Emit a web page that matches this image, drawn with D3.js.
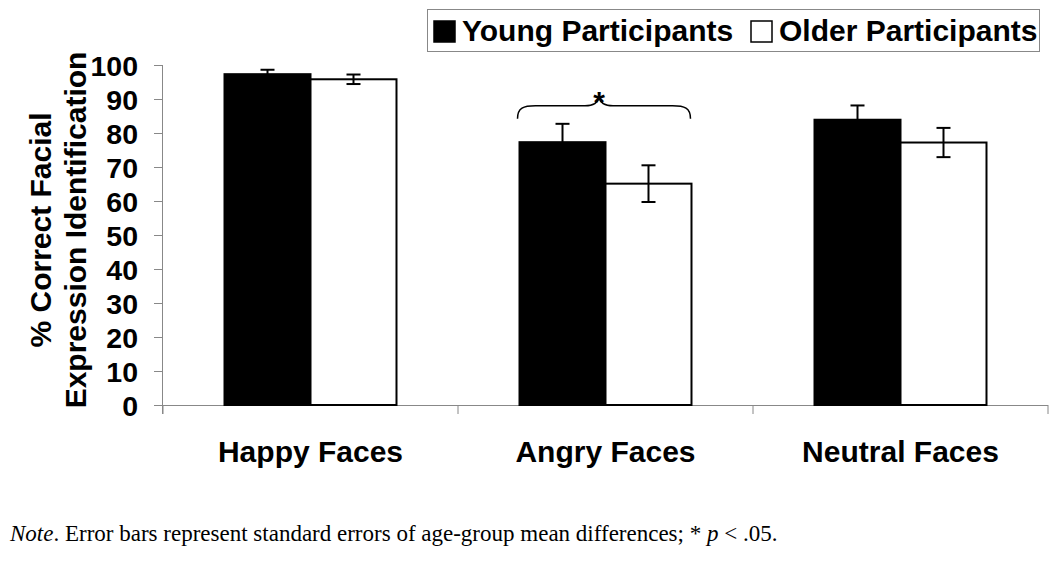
<!DOCTYPE html>
<html><head><meta charset="utf-8">
<script src="https://cdn.jsdelivr.net/npm/d3@7"></script>
<style>body{margin:0;background:#fff}svg{display:block}</style>
</head><body>
<svg id="c" width="1050" height="562"></svg>
<script>
const categories = ["Happy Faces", "Angry Faces", "Neutral Faces"];
const seriesNames = ["Young Participants", "Older Participants"];
const youngValues = [97.3, 77.3, 83.9];
const olderValues = [95.8, 65.1, 77.2];
const youngErrors = [1.3, 5.4, 4.2];
const olderErrors = [1.4, 5.4, 4.3];
const yTicks = [0, 10, 20, 30, 40, 50, 60, 70, 80, 90, 100];
const significantCategory = "Angry Faces";
const braceLevel = 88;

const svg = d3.select("#c");
const x0 = 163, x1 = 1048, yTop = 65, yBot = 405;
const y = d3.scaleLinear().domain([0, 100]).range([yBot, yTop]);
const x = d3.scaleBand().domain(categories).range([x0, x1]).paddingInner(0.417).paddingOuter(0.2085);
const xs = d3.scaleBand().domain(seriesNames).range([0, x.bandwidth()]);
const fills = ["#000", "#fff"];
const vals = [youngValues, olderValues];
const errs = [youngErrors, olderErrors];
const axisCol = "#888";
const sans = "Liberation Sans, Arial, sans-serif";

// Y axis
const yAxis = svg.append("g").attr("transform", `translate(${x0},0)`)
  .call(d3.axisLeft(y).tickValues(yTicks).tickSize(9).tickPadding(16));
yAxis.select(".domain").attr("stroke", axisCol).attr("d", `M-0.5,${yTop}V${yBot + 9}`);
yAxis.selectAll(".tick line").attr("stroke", axisCol);
yAxis.selectAll(".tick text").attr("font-family", sans)
  .attr("font-weight", "bold").attr("font-size", 28.5).attr("fill", "#000").attr("dy", "0.36em");

// X axis line + ticks at band boundaries
const step = x.step();
svg.append("line").attr("x1", x0 - 9).attr("x2", x1).attr("y1", yBot + 0.5).attr("y2", yBot + 0.5)
  .attr("stroke", axisCol);
const bounds = d3.range(categories.length + 1).map(i => x0 + i * step);
svg.selectAll(".xt").data(bounds).join("line")
  .attr("x1", d => d).attr("x2", d => d).attr("y1", yBot).attr("y2", yBot + 9).attr("stroke", axisCol);

// Bars
categories.forEach((c, ci) => {
  seriesNames.forEach((s, si) => {
    const bx = x(c) + xs(s), v = vals[si][ci];
    svg.append("rect").attr("x", bx).attr("y", y(v)).attr("width", xs.bandwidth())
      .attr("height", y(0) - y(v)).attr("fill", fills[si]).attr("stroke", "#000").attr("stroke-width", 2);
  });
});
// Error bars
categories.forEach((c, ci) => {
  seriesNames.forEach((s, si) => {
    const cx = x(c) + xs(s) + xs.bandwidth() / 2, v = vals[si][ci], e = errs[si][ci];
    const g = svg.append("g").attr("stroke", "#000").attr("stroke-width", 2);
    g.append("line").attr("x1", cx).attr("x2", cx).attr("y1", y(v + e)).attr("y2", y(v - e));
    [v + e, v - e].forEach(t => g.append("line").attr("x1", cx - 7).attr("x2", cx + 7).attr("y1", y(t)).attr("y2", y(t)));
  });
});

// Brace
const bl = x(significantCategory) - 2, br = x(significantCategory) + x.bandwidth() - 1;
const bm = (bl + br) / 2 - 5, by = y(braceLevel);
const braceD = `M${bl},${by + 13} C${bl},${by + 2} ${bl + 6},${by} ${bl + 18},${by} L${bm - 14},${by} C${bm - 6},${by} ${bm - 1},${by - 3} ${bm},${by - 9} C${bm + 1},${by - 3} ${bm + 6},${by} ${bm + 14},${by} L${br - 18},${by} C${br - 6},${by} ${br},${by + 2} ${br},${by + 13}`;
svg.append("path").attr("d", braceD).attr("fill", "none").attr("stroke", "#000").attr("stroke-width", 1.5);
svg.append("text").attr("x", bm).attr("y", by + 6).attr("text-anchor", "middle")
  .attr("font-family", sans).attr("font-weight", "bold").attr("font-size", 30).text("*");

// X labels
svg.selectAll(".xl").data(categories).join("text")
  .attr("x", d => x(d) + x.bandwidth() / 2).attr("y", 462).attr("text-anchor", "middle")
  .attr("font-family", sans).attr("font-weight", "bold").attr("font-size", 30)
  .text(d => d);

// Y title
const yt = svg.append("text").attr("transform", "translate(0,230) rotate(-90)")
  .attr("text-anchor", "middle").attr("font-family", sans)
  .attr("font-weight", "bold").attr("font-size", 30);
yt.append("tspan").attr("x", 0).attr("y", 51).text("% Correct Facial");
yt.append("tspan").attr("x", 0).attr("y", 86).text("Expression Identification");

// Legend
svg.append("rect").attr("x", 427.5).attr("y", 9.5).attr("width", 612).attr("height", 42)
  .attr("fill", "#fff").attr("stroke", axisCol);
const legX = [433, 750];
seriesNames.forEach((s, i) => {
  svg.append("rect").attr("x", legX[i] + 1).attr("y", 21).attr("width", 21).attr("height", 21)
    .attr("fill", fills[i]).attr("stroke", "#000").attr("stroke-width", 1.5);
  svg.append("text").attr("x", legX[i] + 29).attr("y", 41)
    .attr("font-family", sans).attr("font-weight", "bold").attr("font-size", 30)
    .text(s);
});

// Note
const note = svg.append("text").attr("x", 10).attr("y", 541)
  .attr("font-family", "Liberation Serif, Times New Roman, serif").attr("font-size", 23);
note.append("tspan").attr("font-style", "italic").text("Note");
note.append("tspan").text(". Error bars represent standard errors of age-group mean differences; * ");
note.append("tspan").attr("font-style", "italic").text("p");
note.append("tspan").text(" < .05.");
</script>
</body></html>
